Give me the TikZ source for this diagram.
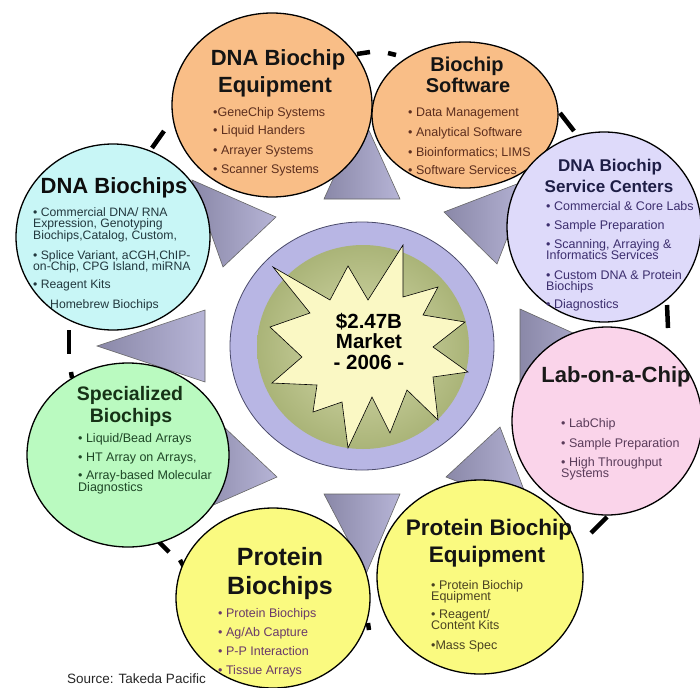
\documentclass[tikz,border=0pt]{standalone}
\usepackage{fontspec}
\setmainfont{Liberation Sans}
\usetikzlibrary{shapes.geometric}
\definecolor{orangeF}{HTML}{F9BE87}
\definecolor{cyanF}{HTML}{C8F6F6}
\definecolor{lavF}{HTML}{DEDAFA}
\definecolor{pinkF}{HTML}{FAD4EA}
\definecolor{yellowF}{HTML}{FAFA80}
\definecolor{greenF}{HTML}{BAFAC0}
\definecolor{ringF}{HTML}{B8B6E4}
\definecolor{ringD}{HTML}{4A4A6A}
\definecolor{coreC}{HTML}{D8DCAE}
\definecolor{coreO}{HTML}{AAB478}
\definecolor{starF}{HTML}{FAF8C4}
\definecolor{triD}{HTML}{8A88A8}
\definecolor{triL}{HTML}{B6B4D6}
\definecolor{brownT}{HTML}{5C2E1E}
\definecolor{navyT}{HTML}{3C2E6E}
\definecolor{navyH}{HTML}{1E1E46}
\definecolor{plumT}{HTML}{5A3C5A}
\definecolor{oliveT}{HTML}{4A4222}
\definecolor{purpT}{HTML}{6A3A6A}
\definecolor{grnT}{HTML}{1E4626}
\definecolor{grnH}{HTML}{163216}
\definecolor{tealT}{HTML}{22383E}
\begin{document}
\begin{tikzpicture}[x=1pt,y=-1pt,
  bub/.style={ellipse,draw=black,line width=1.3pt,inner sep=0pt},
  tri/.style={draw=black!60,line width=0.6pt,left color=triD,right color=triL},
  blk/.style={line width=4.5pt,black},
  ttl/.style={anchor=base,inner sep=0pt,font=\bfseries\fontsize{#1}{#1}\selectfont},
  bul/.style={anchor=base west,inner sep=0pt,font=\fontsize{12.5}{14}\selectfont},
  bulb/.style={anchor=base west,inner sep=0pt,font=\fontsize{12.2}{14}\selectfont}]
\useasboundingbox (0,0) rectangle (700,687);
% black marks of the outer ring
\draw[blk] (357,54) -- (370,52);
\draw[blk] (388,53) -- (396,55);
\draw[blk] (152,148) -- (164,131);
\draw[blk] (560,113) -- (574,131);
\draw[blk] (667,305) -- (668,328);
\draw[blk] (69,330) -- (69,354);
\draw[blk] (71,372) -- (72,378);
\draw[blk] (156,539) -- (169,552);
\draw[blk] (180,560) -- (184,567);
\draw[blk] (368,623) -- (369,630);
\draw[blk] (591,533) -- (607,517);
% triangles
\draw[tri] (324,199) -- (400,199) -- (362,115) -- cycle;
\draw[tri] (223,267) -- (276,217) -- (192,180) -- cycle;
\draw[tri] (444,212) -- (497,264) -- (530,179) -- cycle;
\draw[tri] (520,309) -- (520,385) -- (604,347) -- cycle;
\draw[tri] (446,477) -- (500,427) -- (532,511) -- cycle;
\draw[tri] (324,494) -- (400,494) -- (366,574) -- cycle;
\draw[tri] (277,477) -- (224,427) -- (193,514) -- cycle;
\draw[tri] (205,310) -- (205,382) -- (97,346) -- cycle;
% centre
\node[ellipse,draw=ringD,line width=0.8pt,fill=ringF,inner sep=0pt,
      minimum width=264pt,minimum height=248pt] (ring) at (362,346) {};
\node[ellipse,inner sep=0pt,inner color=coreC,outer color=coreO,
      minimum width=212pt,minimum height=204pt] (core) at (363,347) {};
\draw[fill=starF,draw=black,line width=0.6pt]
  (273,267) -- (330,300) -- (348,266) -- (368,300) -- (403,245) -- (403,297) --
  (438,287) -- (423,315) -- (465,322) -- (433,347) -- (468,372) -- (433,377) --
  (438,420) -- (407,390) -- (390,433) -- (372,397) -- (348,448) -- (342,402) --
  (313,412) -- (317,385) -- (272,383) -- (302,357) -- (270,327) -- (310,313) -- cycle;
\node[ttl=20.5] (c1) at (369,328) {\$2.47B};
\node[ttl=20.5] (c2) at (369,348) {Market};
\node[ttl=20.5] (c3) at (369,369) {- 2006 -};
% outer bubbles
\node[bub,fill=orangeF,minimum width=200pt,minimum height=184pt] (e1) at (272,105) {};
\node[bub,fill=orangeF,minimum width=186pt,minimum height=146pt] (e2) at (465,115) {};
\node[bub,fill=lavF,minimum width=194pt,minimum height=190pt] (e3) at (604,227) {};
\node[bub,fill=pinkF,minimum width=190pt,minimum height=188pt] (e4) at (607,421) {};
\node[bub,fill=yellowF,minimum width=206pt,minimum height=194pt] (e5) at (480,577) {};
\node[bub,fill=yellowF,minimum width=194pt,minimum height=180pt] (e6) at (273,598) {};
\node[bub,fill=greenF,minimum width=202pt,minimum height=184pt] (e7) at (128,455) {};
\node[bub,fill=cyanF,minimum width=194pt,minimum height=186pt] (e8) at (113,237) {};
% DNA Biochip Equipment
\node[ttl=22,text=black!92] (t1a) at (278,66) {DNA Biochip};
\node[ttl=22,text=black!92] (t1b) at (275,93) {Equipment};
\node[bul,text=brownT] (b1a) at (213,117) {•GeneChip Systems};
\node[bul,text=brownT] (b1b) at (213,135) {• Liquid Handers};
\node[bul,text=brownT] (b1c) at (213,154) {• Arrayer Systems};
\node[bul,text=brownT] (b1d) at (213,173) {• Scanner Systems};
% Biochip Software
\node[ttl=20,text=black!92] (t2a) at (467,72) {Biochip};
\node[ttl=20,text=black!92] (t2b) at (468,93) {Software};
\node[bul,text=brownT] (b2a) at (408,117) {• Data Management};
\node[bul,text=brownT] (b2b) at (408,137) {• Analytical Software};
\node[bul,text=brownT] (b2c) at (408,157) {• Bioinformatics; LIMS};
\node[bul,text=brownT] (b2d) at (408,175) {• Software Services};
% DNA Biochip Service Centers
\node[ttl=17,text=navyH] (t3a) at (610,171) {DNA Biochip};
\node[ttl=17,text=navyH] (t3b) at (609,192) {Service Centers};
\node[bul,text=navyT] (b3a) at (546,210) {• Commercial \& Core Labs};
\node[bul,text=navyT] (b3b) at (546,229) {• Sample Preparation};
\node[bul,text=navyT] (b3c) at (546,248) {• Scanning, Arraying \&};
\node[bul,text=navyT] (b3d) at (546,259) {Informatics Services};
\node[bul,text=navyT] (b3e) at (546,279) {• Custom DNA \& Protein};
\node[bul,text=navyT] (b3f) at (546,290) {Biochips};
\node[bul,text=navyT] (b3g) at (546,308) {• Diagnostics};
% Lab-on-a-Chip
\node[ttl=22,text=black!90] (t4a) at (616,382) {Lab-on-a-Chip};
\node[bul,text=plumT] (b4a) at (561,427) {• LabChip};
\node[bul,text=plumT] (b4b) at (561,447) {• Sample Preparation};
\node[bul,text=plumT] (b4c) at (561,466) {• High Throughput};
\node[bul,text=plumT] (b4d) at (561,477) {Systems};
% Protein Biochip Equipment
\node[ttl=22.5,text=black!92] (t5a) at (489,535) {Protein Biochip};
\node[ttl=22.5,text=black!92] (t5b) at (487,562) {Equipment};
\node[bul,text=oliveT] (b5a) at (431,589) {• Protein Biochip};
\node[bul,text=oliveT] (b5b) at (431,600) {Equipment};
\node[bul,text=oliveT] (b5c) at (431,618) {• Reagent/};
\node[bul,text=oliveT] (b5d) at (431,629) {Content Kits};
\node[bul,text=oliveT] (b5e) at (431,649) {•Mass Spec};
% Protein Biochips
\node[ttl=25,text=black!92] (t6a) at (280,565) {Protein};
\node[ttl=25,text=black!92] (t6b) at (280,594) {Biochips};
\node[bul,text=purpT] (b6a) at (218,617) {• Protein Biochips};
\node[bul,text=purpT] (b6b) at (218,636) {• Ag/Ab Capture};
\node[bul,text=purpT] (b6c) at (218,655) {• P-P Interaction};
\node[bul,text=purpT] (b6d) at (218,674) {• Tissue Arrays};
% Specialized Biochips
\node[ttl=19.5,text=grnH] (t7a) at (130,400) {Specialized};
\node[ttl=19.5,text=grnH] (t7b) at (131,422) {Biochips};
\node[bul,text=grnT] (b7a) at (78,442) {• Liquid/Bead Arrays};
\node[bul,text=grnT] (b7b) at (78,461) {• HT Array on Arrays,};
\node[bul,text=grnT] (b7c) at (78,479) {• Array-based Molecular};
\node[bul,text=grnT] (b7d) at (78,491) {Diagnostics};
% DNA Biochips
\node[ttl=22,text=black!95] (t8a) at (114,193) {DNA Biochips};
\node[bulb,text=tealT] (b8a) at (33,216) {• Commercial DNA/ RNA};
\node[bulb,text=tealT] (b8b) at (33,227) {Expression, Genotyping};
\node[bulb,text=tealT] (b8c) at (33,239) {Biochips,Catalog, Custom,};
\node[bulb,text=tealT] (b8d) at (33,259) {• Splice Variant, aCGH,ChIP-};
\node[bulb,text=tealT] (b8e) at (33,270) {on-Chip, CPG Island, miRNA};
\node[bulb,text=tealT] (b8f) at (33,288) {• Reagent Kits};
\node[bulb,text=tealT] (b8g) at (50,308) {Homebrew Biochips};
% source
\node[anchor=base west,inner sep=0pt,font=\fontsize{13.5}{14}\selectfont,text=black!85] (src) at (67,683) {Source: Takeda Pacific};
\end{tikzpicture}
\end{document}
